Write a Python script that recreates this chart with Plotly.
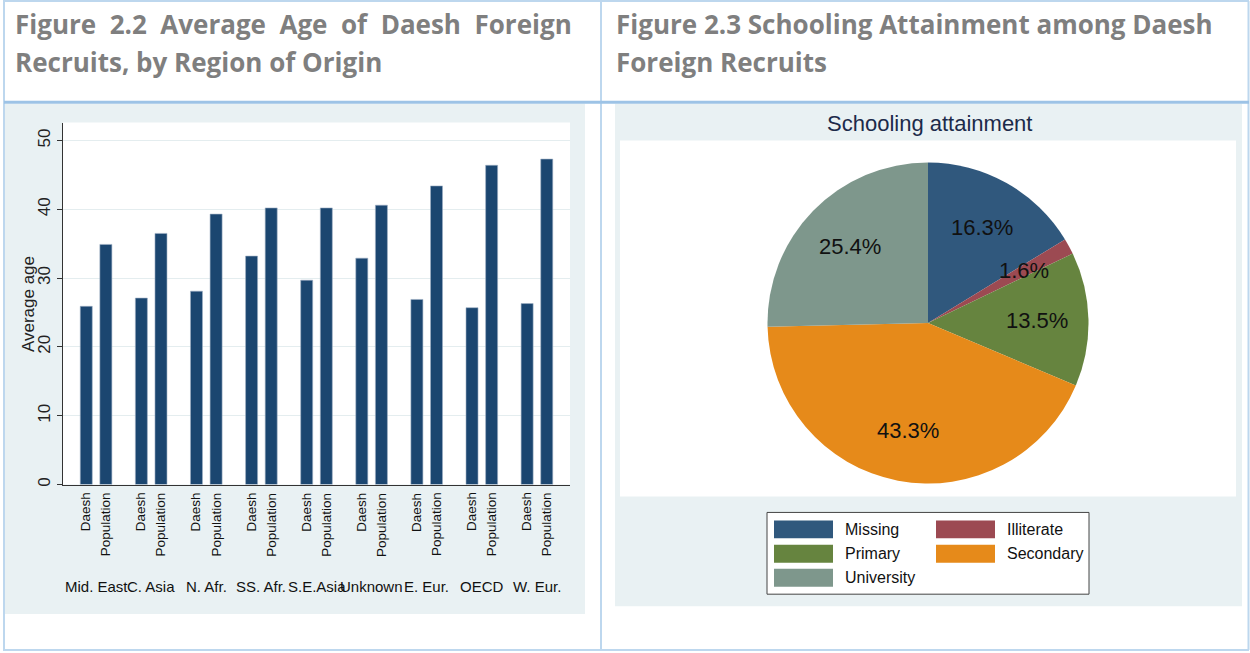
import math
import plotly.graph_objects as go

# ---------------- data ----------------
regions = ["Mid. East", "C. Asia", "N. Afr.", "SS. Afr.", "S.E.Asia",
           "Unknown", "E. Eur.", "OECD", "W. Eur."]
daesh_age = [25.9, 27.1, 28.1, 33.2, 29.7, 32.9, 26.9, 25.7, 26.3]
population_age = [34.9, 36.5, 39.3, 40.2, 40.2, 40.6, 43.4, 46.4, 47.3]
series_names = ["Daesh", "Population"]
y_tick_values = [0, 10, 20, 30, 40, 50]

school_levels = ["Missing", "Illiterate", "Primary", "Secondary", "University"]
school_shares = [16.3, 1.6, 13.5, 43.3, 25.4]
school_labels = ["16.3%", "1.6%", "13.5%", "43.3%", "25.4%"]

header_left = ["Figure 2.2 Average Age of Daesh Foreign",
               "Recruits, by Region of Origin"]
header_right = ["Figure 2.3 Schooling Attainment among Daesh",
                "Foreign Recruits"]

# ---------------- styles ----------------
W, H = 1250, 653
BAR = "#1b4670"
SCHOOL_COLORS = ["#30587d", "#9c4a52", "#66843f", "#e68a1a", "#7e978c"]
LIGHT_BG = "#e9f1f3"
GRID = "#e4edef"
BORDER = "#bdd7ee"
HEADER_LINE = "#9dc3e6"
HEAD_COLOR = "#7f7f7f"
FONT = "Liberation Sans, Arial, sans-serif"
HEAD_FONT = "Open Sans, Lato, sans-serif"


def px(x):
    return x / W


def py(y):
    return 1 - y / H


fig = go.Figure()

# ---------------- bar chart ----------------
BARGAP = 0.288
BARGROUPGAP = 0.388
for name, vals in zip(series_names, [daesh_age, population_age]):
    fig.add_trace(go.Bar(
        x=regions, y=vals, name=name,
        marker=dict(color=BAR, line=dict(color="#9fb0c4", width=0.6)),
        showlegend=False, hoverinfo="x+y+name",
    ))

plot_l, plot_r, plot_t, plot_b = 63, 570, 123, 486
fig.update_layout(
    barmode="group", bargap=BARGAP, bargroupgap=BARGROUPGAP,
    xaxis=dict(domain=[px(plot_l), px(plot_r)], range=[-0.6, len(regions) - 0.4],
               showticklabels=False, showgrid=False, zeroline=False,
               showline=True, linecolor="#333", linewidth=1, ticks=""),
    yaxis=dict(domain=[py(plot_b), py(plot_t)], range=[0, 52.6],
               tickvals=y_tick_values, tickangle=-90,
               tickfont=dict(family=FONT, size=17, color="#222"),
               ticks="outside", ticklen=5, tickcolor="#333",
               showgrid=True, gridcolor=GRID, gridwidth=1, zeroline=False,
               showline=True, linecolor="#333", linewidth=1),
)

annotations = []
shapes = []

# backgrounds
shapes.append(dict(type="rect", xref="paper", yref="paper", layer="below",
                   x0=px(5), x1=px(585), y0=py(616), y1=py(104),
                   fillcolor=LIGHT_BG, line=dict(width=0)))
shapes.append(dict(type="rect", xref="paper", yref="paper", layer="below",
                   x0=px(plot_l), x1=px(plot_r), y0=py(plot_b), y1=py(plot_t),
                   fillcolor="white", line=dict(width=0)))
shapes.append(dict(type="rect", xref="paper", yref="paper", layer="below",
                   x0=px(615), x1=px(1242), y0=py(608), y1=py(104),
                   fillcolor=LIGHT_BG, line=dict(width=0)))
shapes.append(dict(type="rect", xref="paper", yref="paper", layer="below",
                   x0=px(620), x1=px(1236), y0=py(498), y1=py(141),
                   fillcolor="white", line=dict(width=0)))

# table borders
shapes.append(dict(type="line", xref="paper", yref="paper",
                   x0=px(3), x1=px(1249), y0=py(1), y1=py(1),
                   line=dict(color=BORDER, width=2)))
shapes.append(dict(type="line", xref="paper", yref="paper",
                   x0=px(3), x1=px(1249), y0=py(652), y1=py(652),
                   line=dict(color=BORDER, width=2)))
shapes.append(dict(type="line", xref="paper", yref="paper",
                   x0=px(4), x1=px(4), y0=py(1), y1=py(652),
                   line=dict(color=BORDER, width=2)))
shapes.append(dict(type="line", xref="paper", yref="paper",
                   x0=px(1248.5), x1=px(1248.5), y0=py(1), y1=py(652),
                   line=dict(color=BORDER, width=2)))
shapes.append(dict(type="line", xref="paper", yref="paper",
                   x0=px(601), x1=px(601), y0=py(1), y1=py(652),
                   line=dict(color=BORDER, width=2)))
shapes.append(dict(type="line", xref="paper", yref="paper",
                   x0=px(4), x1=px(1249), y0=py(102.5), y1=py(102.5),
                   line=dict(color=HEADER_LINE, width=3)))


def justify(line):
    # emulate the justified first header line with widened word gaps
    return " \u00a0".join(line.split(" "))


# headers
for i, line in enumerate(header_left):
    txt = justify(line) if i == 0 else line
    annotations.append(dict(xref="paper", yref="paper", x=px(13), y=py(24 + 38 * i),
                            text="<b>%s</b>" % txt, showarrow=False,
                            xanchor="left", yanchor="middle",
                            font=dict(family=HEAD_FONT, size=26, color=HEAD_COLOR)))
for i, line in enumerate(header_right):
    annotations.append(dict(xref="paper", yref="paper", x=px(614), y=py(24 + 38 * i),
                            text="<b>%s</b>" % line, showarrow=False,
                            xanchor="left", yanchor="middle",
                            font=dict(family=HEAD_FONT, size=26, color=HEAD_COLOR)))

# y axis title
annotations.append(dict(xref="paper", yref="paper", x=px(28), y=py(305),
                        text="Average age", textangle=-90, showarrow=False,
                        xanchor="center", yanchor="middle",
                        font=dict(family=FONT, size=17, color="#222")))

# category labels
slot_half = (1 - BARGAP) / 4
for i, reg in enumerate(regions):
    for j, name in enumerate(series_names):
        off = -slot_half if j == 0 else slot_half
        annotations.append(dict(xref="x", yref="paper", x=i + off, y=py(492),
                                text=name, textangle=-90, showarrow=False,
                                xanchor="center", yanchor="top",
                                font=dict(family=FONT, size=13.5, color="#111")))
    annotations.append(dict(xref="x", yref="paper", x=i, y=py(588),
                            text=reg, showarrow=False,
                            xanchor="center", yanchor="middle",
                            font=dict(family=FONT, size=15, color="#111")))

# ---------------- pie chart ----------------
cx, cy, r = 928, 324, 161
fig.add_trace(go.Pie(
    labels=school_levels, values=school_shares, sort=False,
    direction="clockwise", rotation=0,
    marker=dict(colors=SCHOOL_COLORS, line=dict(width=0)),
    textinfo="none", showlegend=False,
    domain=dict(x=[px(cx - r), px(cx + r)], y=[py(cy + r), py(cy - r)]),
))

total = sum(school_shares)
cum = 0.0
for share, lab in zip(school_shares, school_labels):
    mid = (cum + share / 2) / total * 2 * math.pi
    cum += share
    lx = cx + 0.68 * r * math.sin(mid)
    ly = cy - 0.68 * r * math.cos(mid)
    annotations.append(dict(xref="paper", yref="paper", x=px(lx), y=py(ly),
                            text=lab, showarrow=False, xanchor="center",
                            yanchor="middle",
                            font=dict(family=FONT, size=22, color="#111")))

annotations.append(dict(xref="paper", yref="paper", x=px(929), y=py(124),
                        text="Schooling attainment", showarrow=False,
                        xanchor="center", yanchor="middle",
                        font=dict(family=FONT, size=22, color="#1c2a4a")))

# legend (manual, two columns)
shapes.append(dict(type="rect", xref="paper", yref="paper",
                   x0=px(767), x1=px(1089), y0=py(596), y1=py(514),
                   fillcolor="white", line=dict(color="#444", width=1)))
col_x = [774, 936]
row_y = [531, 555.5, 579.5]
for k, (lev, col) in enumerate(zip(school_levels, SCHOOL_COLORS)):
    rx = col_x[k % 2]
    ry = row_y[k // 2]
    shapes.append(dict(type="rect", xref="paper", yref="paper",
                       x0=px(rx), x1=px(rx + 59), y0=py(ry + 9), y1=py(ry - 9),
                       fillcolor=col, line=dict(width=0)))
    annotations.append(dict(xref="paper", yref="paper", x=px(rx + 69), y=py(ry),
                            text=lev, showarrow=False, xanchor="left",
                            yanchor="middle",
                            font=dict(family=FONT, size=16, color="#111")))

fig.update_layout(
    width=W, height=H, margin=dict(l=0, r=0, t=0, b=0),
    paper_bgcolor="white", plot_bgcolor="rgba(0,0,0,0)",
    shapes=shapes, annotations=annotations,
    font=dict(family=FONT),
)

fig.write_html(
    "out.html",
    config={"displayModeBar": False},
    post_script="document.body.style.margin='0px';document.body.style.overflow='hidden';",
)
